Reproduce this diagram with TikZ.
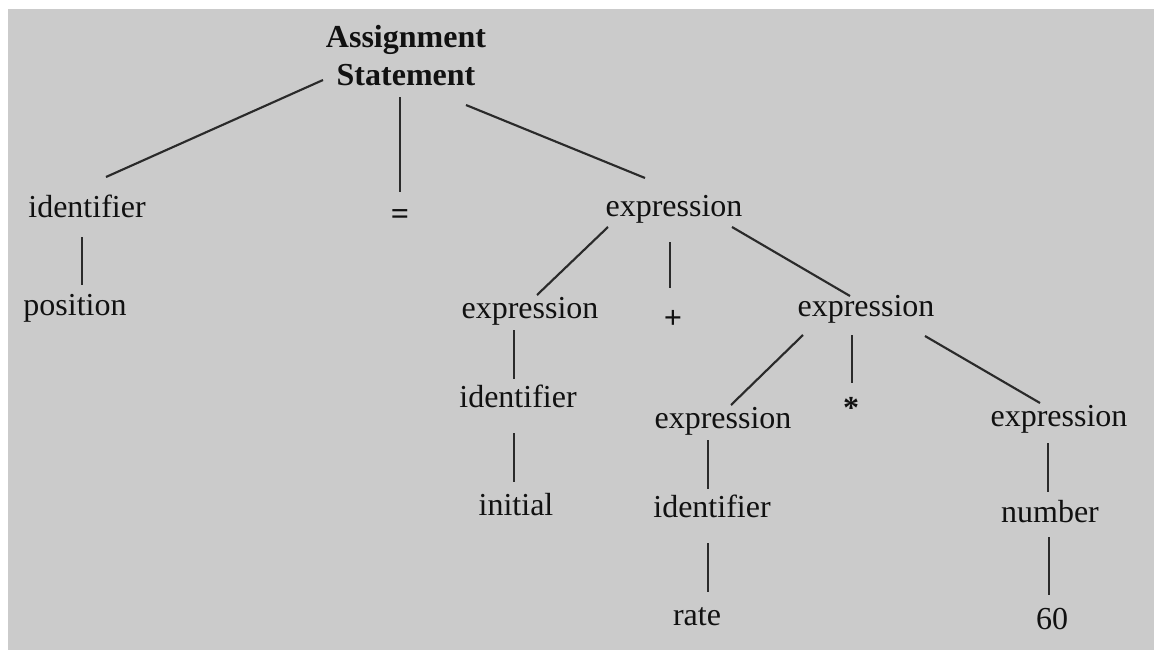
\documentclass[tikz,border=0pt]{standalone}
\usepackage{fontspec}
\setmainfont{Liberation Serif}
\usetikzlibrary{calc}
\definecolor{panel}{HTML}{CBCBCB}
\definecolor{ink}{HTML}{111111}
\definecolor{edge}{HTML}{2A2A2A}
\begin{document}
\begin{tikzpicture}[x=0.75pt,y=-0.75pt,
  lbl/.style={anchor=base,inner sep=0pt,text=ink,font=\fontsize{24}{28.5}\selectfont},
  sym/.style={lbl,font=\fontsize{24}{28.5}\selectfont\bfseries},
  head/.style={anchor=center,inner sep=0pt,text=ink,align=center,font=\fontsize{24}{28.5}\selectfont\bfseries},
  branch/.style={draw=edge,line width=1.6pt}]
% canvas
\fill[white] (0,0) rectangle (1154,650);
\fill[panel] (8,9) rectangle (1154,650);
\useasboundingbox (0,0) rectangle (1154,650);

% tree nodes
\node[head] (root) at (406,56) {Assignment\\Statement};
\node[lbl] (id1)   at (87,217)   {identifier};
\node[sym] (eq)    at (400,224)  {=};
\node[lbl] (expr0) at (674,216)  {expression};
\node[lbl] (pos)   at (75,315)   {position};
\node[lbl] (expr1) at (530,318)  {expression};
\node[sym] (plus)  at (673,328)  {+};
\node[lbl] (expr2) at (866,316)  {expression};
\node[lbl] (id2)   at (518,407)  {identifier};
\node[lbl] (expr3) at (723,428)  {expression};
\node[sym] (star)  at (851,418)  {*};
\node[lbl] (expr4) at (1059,426) {expression};
\node[lbl] (init)  at (516,515)  {initial};
\node[lbl] (id3)   at (712,517)  {identifier};
\node[lbl] (num)   at (1050,522) {number};
\node[lbl] (rate)  at (697,625)  {rate};
\node[lbl] (sixty) at (1052,629) {60};

% branches
\draw[branch] ($(root.center)+(-83,24)$) -- ($(id1.base)+(19,-40)$);
\draw[branch] ($(root.center)+(-6,41)$)  -- ($(eq.base)+(0,-32)$);
\draw[branch] ($(root.center)+(60,49)$)  -- ($(expr0.base)+(-29,-38)$);
\draw[branch] ($(id1.base)+(-5,20)$)     -- ($(pos.base)+(7,-30)$);
\draw[branch] ($(expr0.base)+(-66,11)$)  -- ($(expr1.base)+(7,-23)$);
\draw[branch] ($(expr0.base)+(-4,26)$)   -- ($(plus.base)+(-3,-40)$);
\draw[branch] ($(expr0.base)+(58,11)$)   -- ($(expr2.base)+(-16,-20)$);
\draw[branch] ($(expr1.base)+(-16,12)$)  -- ($(id2.base)+(-4,-28)$);
\draw[branch] ($(id2.base)+(-4,26)$)     -- ($(init.base)+(-2,-33)$);
\draw[branch] ($(expr2.base)+(-63,19)$)  -- ($(expr3.base)+(8,-23)$);
\draw[branch] ($(expr2.base)+(-14,19)$)  -- ($(star.base)+(1,-35)$);
\draw[branch] ($(expr2.base)+(59,20)$)   -- ($(expr4.base)+(-19,-23)$);
\draw[branch] ($(expr3.base)+(-15,12)$)  -- ($(id3.base)+(-4,-28)$);
\draw[branch] ($(id3.base)+(-4,26)$)     -- ($(rate.base)+(11,-33)$);
\draw[branch] ($(expr4.base)+(-11,17)$)  -- ($(num.base)+(-2,-30)$);
\draw[branch] ($(num.base)+(-1,15)$)     -- ($(sixty.base)+(-3,-34)$);
\end{tikzpicture}
\end{document}
